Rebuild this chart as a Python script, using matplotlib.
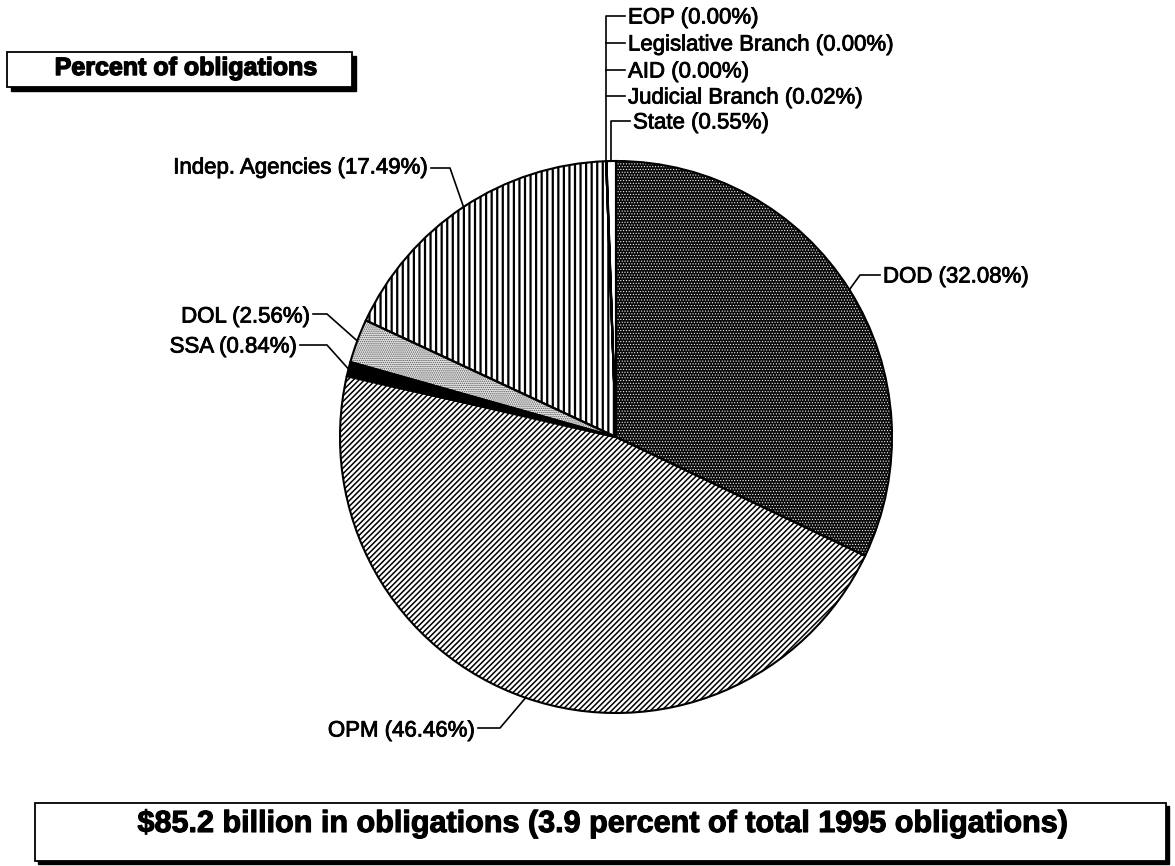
import matplotlib
matplotlib.use("Agg")
import matplotlib.pyplot as plt
from matplotlib.patches import Wedge, Rectangle
import matplotlib.patheffects as pe
import numpy as np

# ---- data ----
agencies = ["DOD", "OPM", "SSA", "DOL", "Indep. Agencies",
            "EOP", "Legislative Branch", "AID", "Judicial Branch", "State"]
percents = [32.08, 46.46, 0.84, 2.56, 17.49, 0.00, 0.00, 0.00, 0.02, 0.55]
title_text = "Percent of obligations"
footer_text = r"\$85.2 billion in obligations (3.9 percent of total 1995 obligations)"

W, H = 1175, 866
plt.rcParams['font.family'] = ['Liberation Sans', 'DejaVu Sans']

fig = plt.figure(figsize=(W / 100, H / 100), dpi=100)
ax = fig.add_axes([0, 0, 1, 1])

def Y(y):
    return H - y

cx, cy, R = 616, 437, 276

styles = {
    "DOD": dict(face="#0a0a0a", hatch="......", hc="white", hlw=0.45),
    "OPM": dict(face="white", hatch="//////", hc="black", hlw=1.1),
    "SSA": dict(face="black", hatch=None, hc="black", hlw=1.0),
    "DOL": dict(face="#e8e8e8", hatch="........", hc="#555555", hlw=0.7),
    "Indep. Agencies": dict(face="white", hatch="|||", hc="black", hlw=1.6),
}

wedges, _ = ax.pie(percents, center=(cx, Y(cy)), radius=R, startangle=90,
                   counterclock=False, normalize=True)

for w, name in zip(wedges, agencies):
    st = styles.get(name, dict(face="white", hatch=None, hc="black", hlw=1.0))
    w.set_facecolor(st["face"])
    w.set_edgecolor(st["hc"])
    w.set_linewidth(0)
    if st["hatch"]:
        w.set_hatch(st["hatch"])
        try:
            w.set_hatch_linewidth(st["hlw"])
        except AttributeError:
            pass
    ax.add_patch(Wedge(w.center, w.r, w.theta1, w.theta2, fill=False,
                       edgecolor="black", linewidth=1.5, zorder=3))

def anchor(name):
    w = wedges[agencies.index(name)]
    th = np.deg2rad((w.theta1 + w.theta2) / 2)
    return cx + R * np.cos(th), cy - R * np.sin(th)

lkw = dict(color="black", lw=1.2, zorder=4)
fs = 16
thick = [pe.withStroke(linewidth=0.6, foreground="black")]
tkw = dict(fontsize=fs, va="center", path_effects=thick)

# DOD
ax0, ay0 = anchor("DOD")
ax.plot([ax0, 860, 880], [Y(ay0), Y(275), Y(275)], **lkw)
ax.text(883, Y(277), "DOD (32.08%)", ha="left", **tkw)

# OPM
ax0, ay0 = anchor("OPM")
ax.plot([ax0, 500, 478], [Y(ay0), Y(728), Y(728)], **lkw)
ax.text(475, Y(731), "OPM (46.46%)", ha="right", **tkw)

# SSA
ax0, ay0 = anchor("SSA")
ax.plot([ax0, 327, 300], [Y(ay0), Y(345), Y(345)], **lkw)
ax.text(297, Y(347), "SSA (0.84%)", ha="right", **tkw)

# DOL
ax0, ay0 = anchor("DOL")
ax.plot([ax0, 327, 313], [Y(ay0), Y(314), Y(314)], **lkw)
ax.text(310, Y(317), "DOL (2.56%)", ha="right", **tkw)

# Indep
ax0, ay0 = anchor("Indep. Agencies")
ax.plot([ax0, 450, 431], [Y(ay0), Y(168), Y(168)], **lkw)
ax.text(428, Y(168), "Indep. Agencies (17.49%)", ha="right", **tkw)

# top group (zero slices)
gx, gy = anchor("AID")
top_rows = [("EOP", 16), ("Legislative Branch", 43), ("AID", 70), ("Judicial Branch", 96)]
ax.plot([gx, gx, 625], [Y(gy), Y(top_rows[0][1]), Y(top_rows[0][1])], **lkw)
for name, yy in top_rows[1:]:
    ax.plot([gx, 625], [Y(yy), Y(yy)], **lkw)
for name, yy in top_rows:
    p = percents[agencies.index(name)]
    ax.text(628, Y(yy + 2), f"{name} ({p:.2f}%)", ha="left", **tkw)

sx, sy = anchor("State")
ax.plot([sx, sx, 630], [Y(sy), Y(121), Y(121)], **lkw)
ax.text(633, Y(123), f"State ({percents[agencies.index('State')]:.2f}%)",
        ha="left", **tkw)

# title box
bx0, by0, bx1, by1 = 7, 52, 352, 87
ax.add_patch(Rectangle((bx0 + 4, Y(by1 + 4)), bx1 - bx0, by1 - by0,
                       facecolor="black", edgecolor="black", zorder=5))
ax.add_patch(Rectangle((bx0, Y(by1)), bx1 - bx0, by1 - by0,
                       facecolor="white", edgecolor="black", lw=1.3, zorder=6))
ax.text(186, Y(68), title_text, fontsize=18, fontweight="bold",
        ha="center", va="center", zorder=7,
        path_effects=[pe.withStroke(linewidth=1.0, foreground="black")])

# footer box
fx0, fy0, fx1, fy1 = 35, 803, 1166, 861
ax.add_patch(Rectangle((fx0 + 3, Y(fy1 + 3)), fx1 - fx0, fy1 - fy0,
                       facecolor="black", edgecolor="black", zorder=5))
ax.add_patch(Rectangle((fx0, Y(fy1)), fx1 - fx0, fy1 - fy0,
                       facecolor="white", edgecolor="black", lw=1.3, zorder=6))
ax.text(602, Y(824), footer_text, fontsize=22, fontweight="bold",
        ha="center", va="center", zorder=7,
        path_effects=[pe.withStroke(linewidth=0.8, foreground="black")])

ax.set_xlim(0, W)
ax.set_ylim(0, H)
ax.set_aspect("equal")
ax.axis("off")

fig.savefig("out.png", dpi=100, facecolor="white")
